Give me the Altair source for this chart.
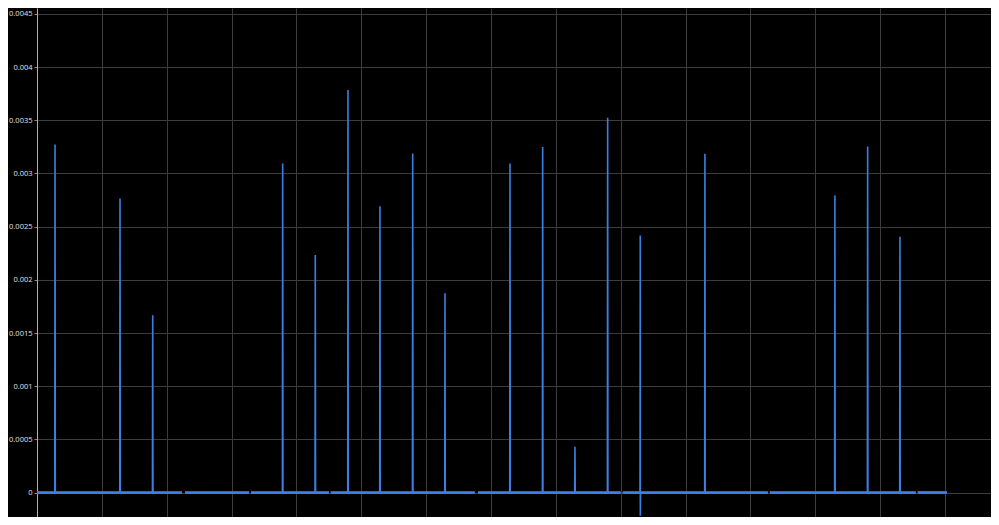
import altair as alt
import pandas as pd

# Spike positions (x units: one unit per vertical gridline) and peak values
spike_x = [0.278, 1.280, 1.784, 3.788, 4.291, 4.795, 5.288, 5.793, 6.291,
           7.293, 7.797, 8.295, 8.799, 9.302, 10.299, 12.303, 12.808, 13.306]
spike_peak = [0.003272, 0.002765, 0.001667, 0.003094, 0.002233, 0.003785,
              0.002693, 0.003188, 0.001873, 0.003094, 0.003250, 0.000430,
              0.003524, 0.002418, 0.003185, 0.002793, 0.003254, 0.002406]
spike_dip = [0, 0, 0, 0, 0, 0, 0, 0, 0, 0, 0, 0, 0, -0.000218, 0, 0, 0, 0]

# Contiguous recorded segments of the trace (gaps between them)
seg_start = [0.0, 2.282, 3.300, 4.530, 6.800, 9.030, 11.300, 13.580]
seg_end = [2.236, 3.270, 4.500, 6.750, 9.000, 11.270, 13.550, 14.030]

y_ticks = [0, 0.0005, 0.001, 0.0015, 0.002, 0.0025, 0.003, 0.0035, 0.004, 0.0045]
x_grid = list(range(0, 15))

rows = []
for si, (a, b) in enumerate(zip(seg_start, seg_end)):
    pts = [(a, 0.0)]
    for sx, sp, sd in zip(spike_x, spike_peak, spike_dip):
        if a < sx < b:
            pts.append((sx - 0.004, 0.0))
            pts.append((sx, sp))
            if sd != 0:
                pts.append((sx + 0.001, sd))
            pts.append((sx + 0.004, 0.0))
    pts.append((b, 0.0))
    for order, (x, y) in enumerate(pts):
        rows.append({"seg": si, "order": order, "x": x, "y": y})
df = pd.DataFrame(rows)
segs = pd.DataFrame({"x": seg_start, "x2": seg_end, "y": [0.0] * len(seg_start)})

xscale = alt.Scale(domain=[0, 14.71], nice=False, zero=False)
yscale = alt.Scale(domain=[-0.00023, 0.004556], nice=False, zero=False)

line = alt.Chart(df).mark_line(color="#3a80e0", strokeWidth=1.6, clip=True).encode(
    x=alt.X("x:Q", scale=xscale,
            axis=alt.Axis(values=x_grid, labels=False, ticks=False, domain=False,
                          title=None, grid=True, gridColor="#3c3c3c", gridWidth=1)),
    y=alt.Y("y:Q", scale=yscale,
            axis=alt.Axis(values=y_ticks, format="~g", title=None, grid=True,
                          gridColor="#3c3c3c", gridWidth=1,
                          domainColor="#b0b0b0", tickColor="#888888", tickSize=3,
                          labelColor="#e0e0e0", labelFontSize=7.5,
                          labelFont="Open Sans",
                          labelPadding=2)),
    detail="seg:N",
    order="order:Q",
)

baseline = alt.Chart(segs).mark_rule(color="#3a80e0", strokeWidth=2.8, clip=True).encode(
    x=alt.X("x:Q", scale=xscale),
    x2="x2:Q",
    y=alt.Y("y:Q", scale=yscale),
)

chart = alt.layer(line, baseline).properties(
    width=954,
    height=509,
    autosize=alt.AutoSizeParams(type="none"),
    padding={"left": 29, "top": 0, "right": 0, "bottom": 0},
    background="#000000",
).configure_view(stroke=None)

chart.save("out.html", embed_options={"renderer": "svg", "actions": False})
